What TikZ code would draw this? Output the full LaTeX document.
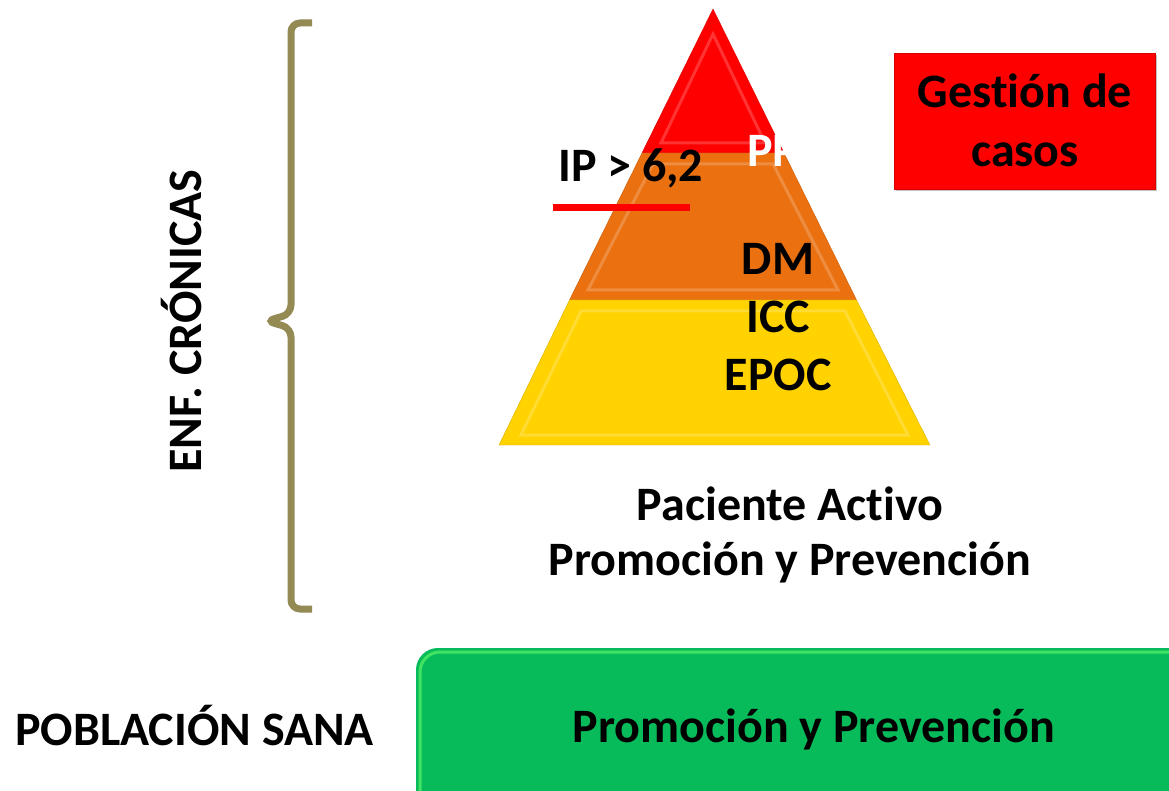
\documentclass[tikz,border=0pt]{standalone}
\usepackage{fontspec}
\setmainfont{Carlito}[Ligatures=NoCommon]
\usetikzlibrary{shadows}
\definecolor{pyrred}{RGB}{255,0,0}
\definecolor{pyrorange}{RGB}{234,112,16}
\definecolor{pyryellow}{RGB}{255,210,0}
\definecolor{bracecol}{RGB}{148,138,84}
\definecolor{boxgreen}{RGB}{8,187,90}

\begin{document}
\begin{tikzpicture}[x=1pt,y=-1pt,
    lbl/.style={font=\fontsize{48}{57}\selectfont\bfseries, inner sep=0pt, anchor=base}]
    \useasboundingbox (0,0) rectangle (1169,791);

    % piramide
    \fill[pyrred, draw=pyrred!85!black] (713,9) -- (784,153) -- (642,153) -- cycle;
    \fill[pyrorange, draw=pyrorange!85!black] (642,153) -- (784,153) -- (856.5,300) -- (569.5,300) -- cycle;
    \fill[pyryellow, draw=pyryellow!85!black] (569.5,300) -- (856.5,300) -- (930,445) -- (499,445) -- cycle;
    \draw[white, opacity=.2, line width=3] (713,34) -- (765,143) -- (661,143) -- cycle;
    \draw[white, opacity=.2, line width=3] (653,164) -- (773,164) -- (838,290) -- (588,290) -- cycle;
    \draw[white, opacity=.2, line width=3] (581,311) -- (845,311) -- (908,435) -- (521,435) -- cycle;

    \node[lbl, white, anchor=base west] (pp) at (747,167) {PP};
    \node[lbl, anchor=base west] (ip) at (558,182) {IP > 6,2};
    \draw[pyrred, line width=7] (553,208) -- (690,208);
    \node[lbl] (dm) at (778,275) {DM};
    \node[lbl] (icc) at (778,333) {ICC};
    \node[lbl] (epoc) at (778,390) {EPOC};
    \node[lbl] (activo) at (790,520) {Paciente Activo};
    \node[lbl] (prev) at (790,575) {Promoción y Prevención};

    % gestion de casos
    \node[fill=pyrred, draw=pyrred!85!black, drop shadow, minimum width=261pt, minimum height=136pt] (gestion) at (1024.5,121) {};
    \node[lbl] (gestion1) at (1025,108) {Gestión de};
    \node[lbl] (gestion2) at (1025,167) {casos};

    % llave
    \draw[bracecol, line width=7, rounded corners=9pt] (312,23) -- (291,23) -- (291,314) -- (266,321) -- (291,328) -- (291,609) -- (312,609);
    \node[lbl, rotate=90] (cronicas) at (201,321) {ENF. CRÓNICAS};

    % poblacion sana
    \node[lbl, anchor=base west] (sana) at (15,745) {POBLACIÓN SANA};
    \fill[boxgreen, rounded corners=22pt, drop shadow] (416,648) rectangle (1200,830);
    \draw[green!60!white, opacity=.6, line width=3, rounded corners=20pt] (420,830) -- (420,652) -- (1200,652);
    \node[lbl] (promo) at (814,742) {Promoción y Prevención};
\end{tikzpicture}
\end{document}
